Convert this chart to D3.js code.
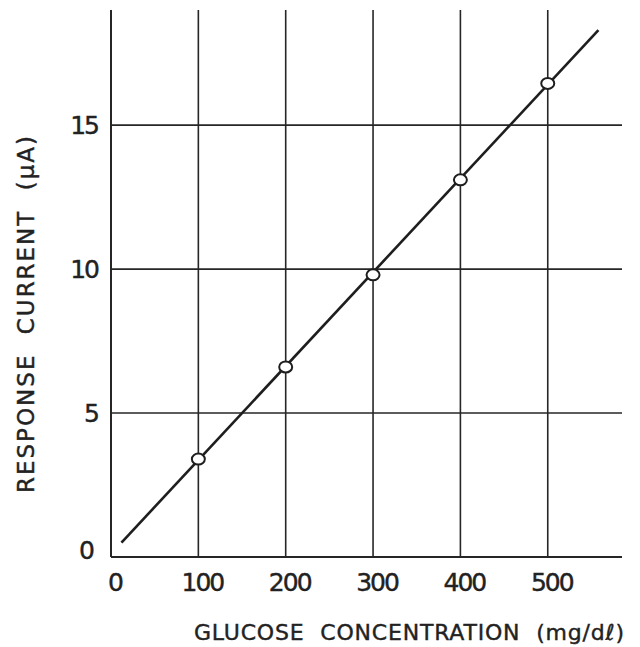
<!DOCTYPE html>
<html>
<head>
<meta charset="utf-8">
<script src="https://cdn.jsdelivr.net/npm/d3@7"></script>
<style>
  body { margin: 0; background: #fff; }
  svg text { font-family: "DejaVu Sans", sans-serif; fill: #222; stroke: #222; stroke-width: 0.4; }
</style>
</head>
<body>
<svg id="chart"></svg>
<script>
// measured points
var glucose = [100, 200, 300, 400, 500];
var current = [3.4, 6.6, 9.8, 13.1, 16.45];

// straight fitted line, its two ends
var fitGlucose = [12, 558];
var fitCurrent = [0.5, 18.3];

var xTicks = [0, 100, 200, 300, 400, 500];
var yTicks = [0, 5, 10, 15];

var width = 640;
var height = 647;

var svg = d3.select("#chart")
    .attr("width", width)
    .attr("height", height);

var x = d3.scaleLinear().domain([0, 585]).range([111, 622]);
var y = d3.scaleLinear().domain([0, 19]).range([557, 10]);

var ink = "#262626";

// vertical grid lines
svg.selectAll(".vgrid")
    .data(xTicks.filter(function(d) { return d > 0; }))
    .enter()
    .append("line")
    .attr("x1", function(d) { return x(d); })
    .attr("x2", function(d) { return x(d); })
    .attr("y1", y(0))
    .attr("y2", y(19))
    .attr("stroke", ink)
    .attr("stroke-width", 1.6);

// horizontal grid lines
svg.selectAll(".hgrid")
    .data(yTicks.filter(function(d) { return d > 0; }))
    .enter()
    .append("line")
    .attr("x1", x(0))
    .attr("x2", x(585))
    .attr("y1", function(d) { return y(d); })
    .attr("y2", function(d) { return y(d); })
    .attr("stroke", ink)
    .attr("stroke-width", 1.6);

// axes lines
svg.append("line")
    .attr("x1", x(0)).attr("x2", x(585))
    .attr("y1", y(0)).attr("y2", y(0))
    .attr("stroke", ink).attr("stroke-width", 2);
svg.append("line")
    .attr("x1", x(0)).attr("x2", x(0))
    .attr("y1", y(0)).attr("y2", y(19))
    .attr("stroke", ink).attr("stroke-width", 2);

// tick labels
svg.selectAll(".xlab")
    .data(xTicks)
    .enter()
    .append("text")
    .attr("x", function(d) { return x(d) + 4; })
    .attr("y", 591)
    .attr("text-anchor", "middle")
    .attr("font-size", 25)
    .attr("letter-spacing", -2)
    .text(function(d) { return d; });

svg.selectAll(".ylab")
    .data(yTicks)
    .enter()
    .append("text")
    .attr("x", function(d) { return d === 0 ? 93 : 98; })
    .attr("y", function(d) { return y(d) + (d === 0 ? 2 : 9); })
    .attr("text-anchor", "end")
    .attr("font-size", 25)
    .attr("letter-spacing", -2)
    .text(function(d) { return d; });

// axis titles
svg.append("text")
    .attr("x", 194)
    .attr("y", 640)
    .attr("font-size", 22)
    .attr("letter-spacing", 0.8)
    .attr("word-spacing", 8)
    .text("GLUCOSE CONCENTRATION (mg/d\u2113)");

svg.append("text")
    .attr("transform", "translate(34,493) rotate(-90)")
    .attr("font-size", 23)
    .attr("letter-spacing", 2)
    .attr("word-spacing", 10)
    .text("RESPONSE CURRENT (\u03bcA)");

// fitted line
var line = d3.line()
    .x(function(d) { return x(d[0]); })
    .y(function(d) { return y(d[1]); });

svg.append("path")
    .datum(d3.zip(fitGlucose, fitCurrent))
    .attr("d", line)
    .attr("fill", "none")
    .attr("stroke", "#1e1e1e")
    .attr("stroke-width", 2.6);

// markers
svg.selectAll(".pt")
    .data(d3.zip(glucose, current))
    .enter()
    .append("ellipse")
    .attr("cx", function(d) { return x(d[0]); })
    .attr("cy", function(d) { return y(d[1]); })
    .attr("rx", 6.5)
    .attr("ry", 5.5)
    .attr("fill", "#fff")
    .attr("stroke", "#1e1e1e")
    .attr("stroke-width", 2);
</script>
</body>
</html>
